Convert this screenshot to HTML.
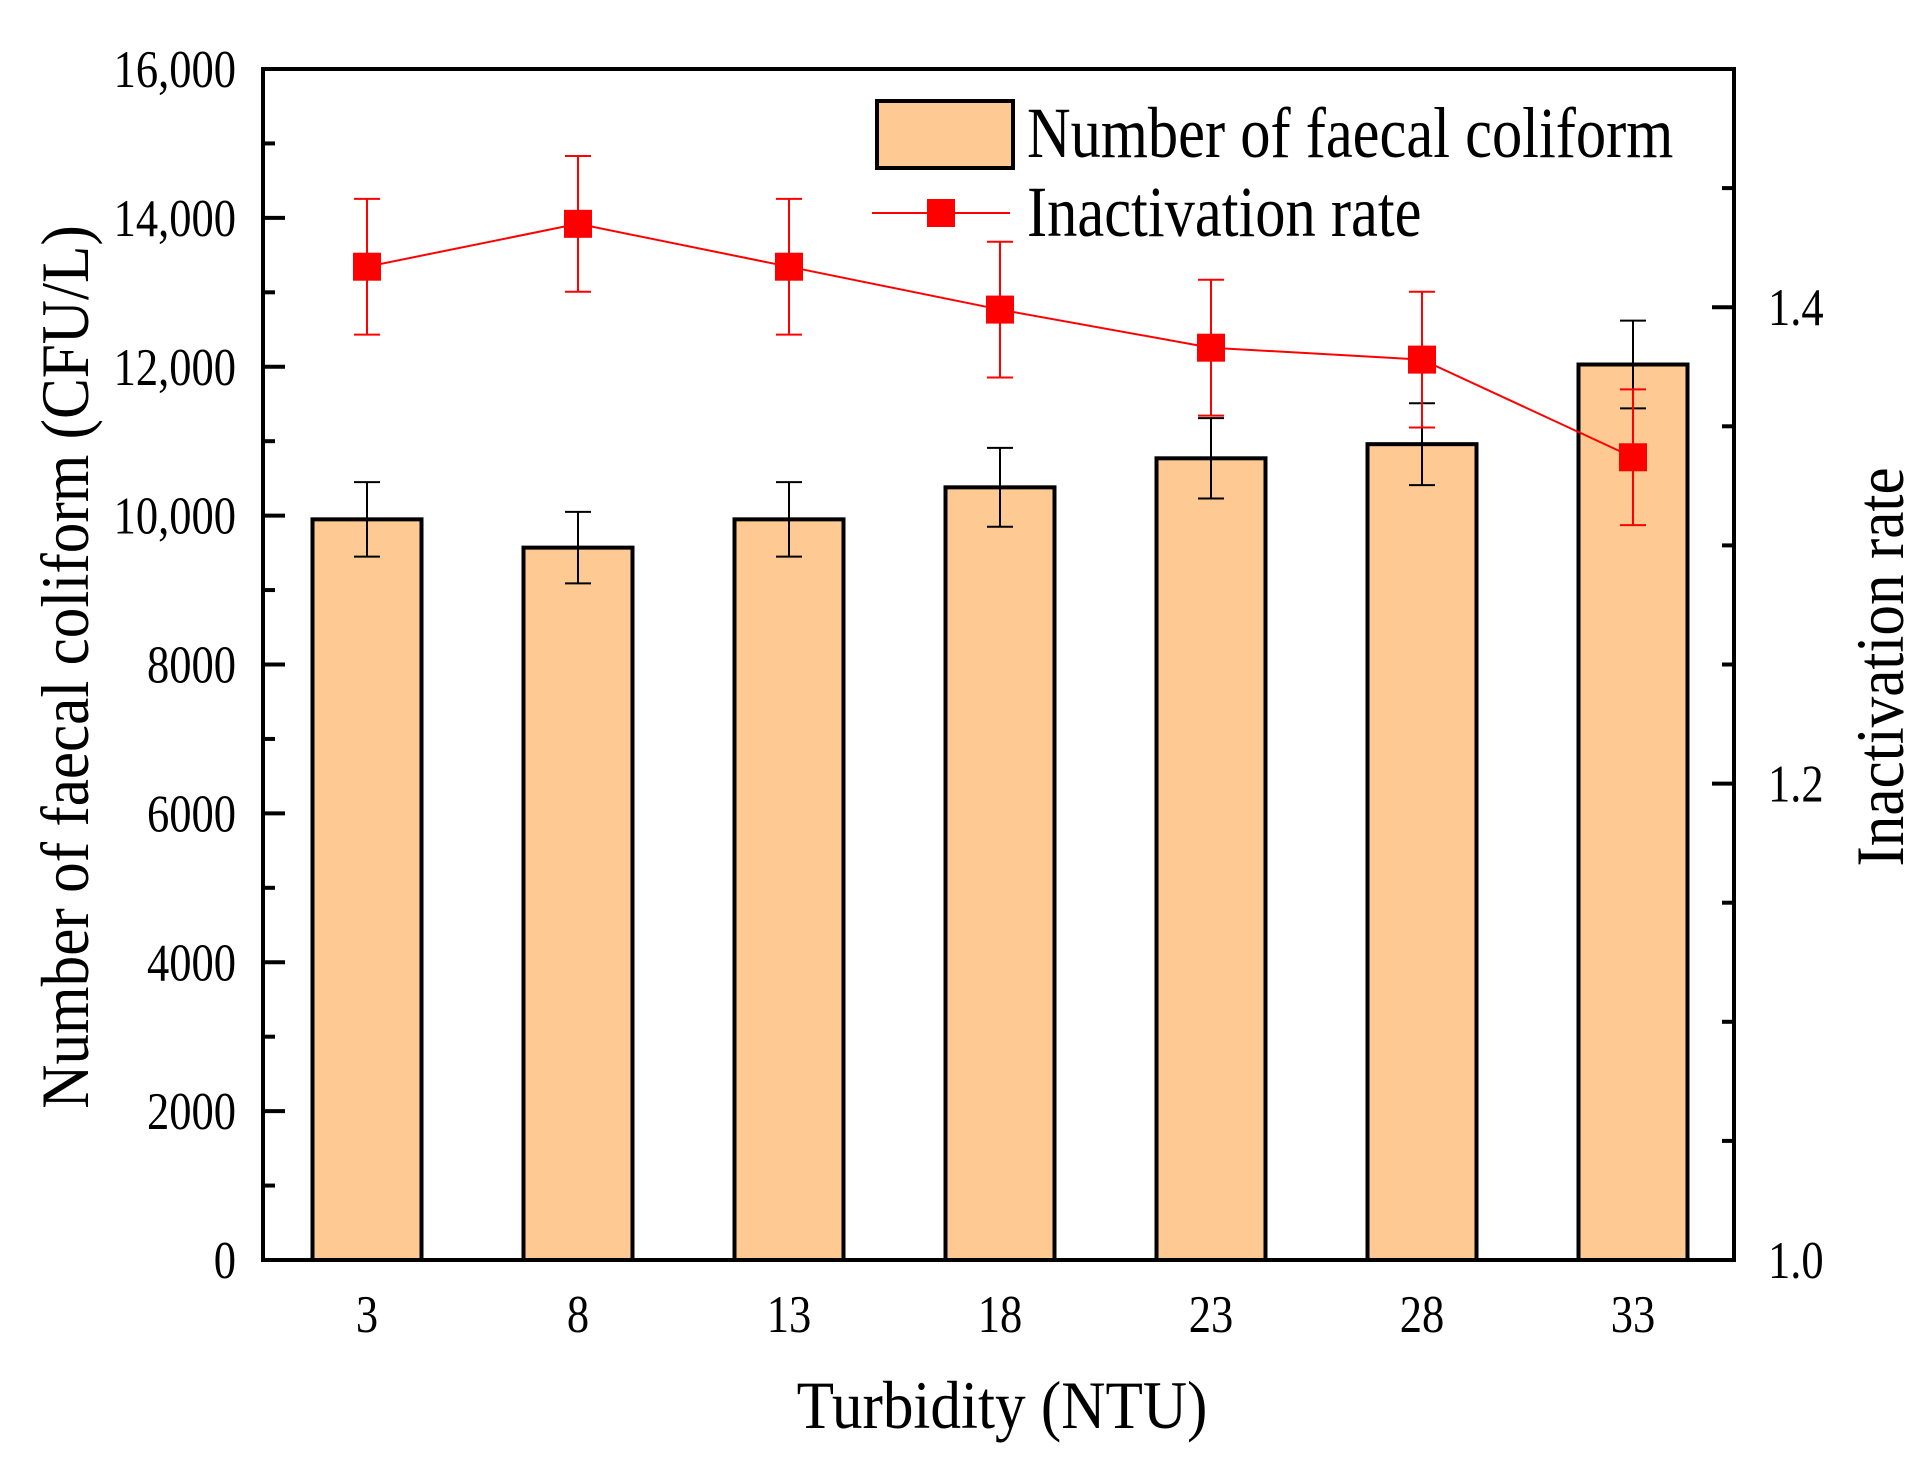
<!DOCTYPE html>
<html><head><meta charset="utf-8"><style>
html,body{margin:0;padding:0;background:#fff}
svg{display:block;font-family:"Liberation Serif",serif}
</style></head><body>
<svg id="chart" width="1927" height="1460" viewBox="0 0 1927 1460" xmlns="http://www.w3.org/2000/svg"></svg>
<script>
const categories = ["3","8","13","18","23","28","33"];
const coliformValues = [9950, 9570, 9950, 10380, 10770, 10960, 12030];
const coliformErrors = [500, 480, 500, 530, 540, 550, 590];
const rateValues = [1.417, 1.435, 1.417, 1.399, 1.383, 1.378, 1.337];
const rateErrors = [0.0285, 0.0285, 0.0285, 0.0285, 0.0285, 0.0285, 0.0285];
const leftTicks = [0, 2000, 4000, 6000, 8000, 10000, 12000, 14000, 16000];
const leftTickLabels = ["0","2000","4000","6000","8000","10,000","12,000","14,000","16,000"];
const rightTicks = [1.0, 1.2, 1.4];
const rightTickLabels = ["1.0","1.2","1.4"];

const NS = "http://www.w3.org/2000/svg";
const svg = document.getElementById("chart");
const L = 263, R = 1734, T = 69, B = 1260;
const step = 211, x0 = 367;
function xPos(i){ return x0 + i*step; }
function yLeft(v){ return B - (v/16000)*(B-T); }
function yRight(v){ return B - ((v-1.0)/0.5)*(B-T); }
function mk(tag, attrs, parent){
  const e = document.createElementNS(NS, tag);
  for (const k in attrs) e.setAttribute(k, attrs[k]);
  (parent||svg).appendChild(e);
  return e;
}
function txt(x, y, s, size, sx, anchor, rot, parent){
  const tr = "translate("+x+","+y+")" + (rot ? " rotate(-90)" : "") + " scale("+sx+",1)";
  const t = mk("text",{x:0,y:0,"font-size":size,"text-anchor":anchor||"start",transform:tr},parent);
  t.textContent = s;
  return t;
}
// bars
const barW = 109;
categories.forEach((c,i)=>{
  const y = yLeft(coliformValues[i]);
  const r = mk("rect",{x:xPos(i)-barW/2,y:y,width:barW,height:B-y,fill:"#ffc994",stroke:"#000","stroke-width":4});
  
  
  const yt = yLeft(coliformValues[i]+coliformErrors[i]), yb = yLeft(coliformValues[i]-coliformErrors[i]);
  const g = mk("g",{stroke:"#000","stroke-width":2});
  
  
  mk("line",{x1:xPos(i),x2:xPos(i),y1:yt,y2:yb},g);
  mk("line",{x1:xPos(i)-13,x2:xPos(i)+13,y1:yt,y2:yt},g);
  mk("line",{x1:xPos(i)-13,x2:xPos(i)+13,y1:yb,y2:yb},g);
});
// line series
const pts = rateValues.map((v,i)=>xPos(i)+","+yRight(v)).join(" ");
const pl = mk("polyline",{points:pts,fill:"none",stroke:"#ff0000","stroke-width":2});


rateValues.forEach((v,i)=>{
  const yt = yRight(v+rateErrors[i]), yb = yRight(v-rateErrors[i]);
  const g = mk("g",{stroke:"#ff0000","stroke-width":2});
  
  
  mk("line",{x1:xPos(i),x2:xPos(i),y1:yt,y2:yb},g);
  mk("line",{x1:xPos(i)-13,x2:xPos(i)+13,y1:yt,y2:yt},g);
  mk("line",{x1:xPos(i)-13,x2:xPos(i)+13,y1:yb,y2:yb},g);
  const m = mk("rect",{x:xPos(i)-14,y:yRight(v)-14,width:28,height:28,fill:"#ff0000"});
  
  
});
// frame
const fr = mk("rect",{x:L,y:T,width:R-L,height:B-T,fill:"none",stroke:"#000","stroke-width":4});


// left ticks
for (let v=0; v<=16000; v+=1000){
  const major = v%2000===0;
  mk("line",{x1:L,x2:L+(major?22:12),y1:yLeft(v),y2:yLeft(v),stroke:"#000","stroke-width":4});
}
leftTicks.forEach((v,i)=>{
  const t = txt(236, yLeft(v)+18, leftTickLabels[i], 53, 0.84, "end");
  
  
});
// right ticks
for (let k=0;k<=10;k++){
  const v = 1.0 + k*0.05;
  const major = k%4===0;
  mk("line",{x1:R,x2:R-(major?22:12),y1:yRight(v),y2:yRight(v),stroke:"#000","stroke-width":4});
}
rightTicks.forEach((v,i)=>{
  const t = txt(1768, yRight(v)+18, rightTickLabels[i], 53, 0.84, "start");
  
  
});
// x labels
categories.forEach((c,i)=>{
  const t = txt(xPos(i), 1332, c, 53, 0.84, "middle");
  
  
});
// titles
let t = txt(1002, 1428, "Turbidity (NTU)", 68, 0.9, "middle");


t = txt(88, 667, "Number of faecal coliform (CFU/L)", 68, 0.9, "middle", true);


t = txt(1903, 667, "Inactivation rate", 68, 0.9, "middle", true);


// legend
const lg = mk("g",{});


mk("rect",{x:877,y:101,width:136,height:67,fill:"#ffc994",stroke:"#000","stroke-width":4},lg);
t = txt(1027, 157, "Number of faecal coliform", 72, 0.84, "start", false, lg);


mk("line",{x1:872,x2:1010,y1:213,y2:213,stroke:"#ff0000","stroke-width":2},lg);
mk("rect",{x:927,y:199,width:28,height:28,fill:"#ff0000"},lg);
t = txt(1027, 236, "Inactivation rate", 72, 0.84, "start", false, lg);


</script>
</body></html>
